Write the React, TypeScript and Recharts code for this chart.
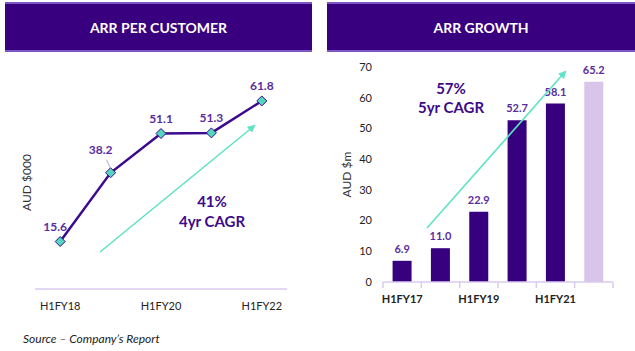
import React from "react";
import { ComposedChart, Line, Bar, Cell, XAxis, YAxis, LabelList } from "recharts";

// ARR per customer (AUD $000)
const customerPeriods = ["H1FY18", "H1FY19", "H1FY20", "H1FY21", "H1FY22"];
const arrPerCustomer = [15.6, 38.2, 51.1, 51.3, 61.8];

// ARR growth (AUD $m), last period shown as a lighter bar
const growthPeriods = ["H1FY17", "H1FY18", "H1FY19", "H1FY20", "H1FY21", "H1FY22"];
const arrGrowth = [6.9, 11.0, 22.9, 52.7, 58.1, 65.2];
const growthTicks = [0, 10, 20, 30, 40, 50, 60, 70];

const customerData = customerPeriods.map((p, i) => ({ period: p, value: arrPerCustomer[i] }));
const growthData = growthPeriods.map((p, i) => ({ period: p, value: arrGrowth[i] }));

const PURPLE = "#37007e";
const LABEL = "#5a2d9c";
const TEAL = "#5ee3c4";
const AXIS = "#d8cbef";
const FONT = "Lato, 'Open Sans', sans-serif";

const Diamond = (props: any) => {
  const { cx, cy, index } = props;
  if (cx == null || cy == null) return null;
  const r = 5;
  return (
    <polygon
      key={`d-${index}`}
      points={`${cx},${cy - r} ${cx + r},${cy} ${cx},${cy + r} ${cx - r},${cy}`}
      fill="#52d6c0"
      stroke="#3b0a8e"
      strokeWidth={1}
    />
  );
};

const CustomerLabel = (props: any) => {
  const { x, y, value, index } = props;
  const style = { fontFamily: FONT, fontSize: 12, fontWeight: 700, fill: LABEL };
  if (index === 1) {
    return (
      <g>
        <line x1={x - 4} y1={y - 13} x2={x} y2={y - 4} stroke="#a68ddb" strokeWidth={0.8} />
        <text x={x - 10} y={y - 19} textAnchor="middle" style={style}>
          {Number(value).toFixed(1)}
        </text>
      </g>
    );
  }
  const dx = index === 0 ? -5 : 0;
  return (
    <text x={x + dx} y={y - 11} textAnchor="middle" style={style}>
      {Number(value).toFixed(1)}
    </text>
  );
};

const GrowthTick = (props: any) => {
  const { x, y, payload, index } = props;
  const half = payload && payload.offset ? payload.offset : 19.2;
  const axisY = y - 13;
  const last = index === growthPeriods.length - 1;
  return (
    <g>
      <line x1={x - half} x2={x - half} y1={axisY} y2={axisY + 6} stroke={AXIS} strokeWidth={1.5} />
      {last && <line x1={x + half} x2={x + half} y1={axisY} y2={axisY + 6} stroke={AXIS} strokeWidth={1.5} />}
      {index % 2 === 0 && (
        <text x={x} y={y} dy="0.71em" textAnchor="middle" fill="#222" fontFamily={FONT} fontSize={11} fontWeight={700}>
          {payload.value}
        </text>
      )}
    </g>
  );
};

const headerStyle = (left: number, width: number): React.CSSProperties => ({
  position: "absolute",
  left,
  top: 2,
  width,
  height: 46,
  background: "#38007f",
  borderTop: "2px solid #7d57c4",
  borderBottom: "2px solid #7d57c4",
  color: "#fff",
  fontFamily: FONT,
  fontWeight: 700,
  fontSize: 14,
  display: "flex",
  alignItems: "center",
  justifyContent: "center",
});

export default function App() {
  return (
    <div style={{ position: "absolute", left: 0, top: 0, width: 635, height: 351, background: "#fff", overflow: "hidden" }}>
      <div style={headerStyle(5, 307)}>ARR PER CUSTOMER</div>
      <div style={headerStyle(327, 308)}>ARR GROWTH</div>

      <div style={{ position: "absolute", left: 0, top: 0 }}>
        <ComposedChart width={320} height={320} data={customerData} margin={{ top: 76, right: 33, bottom: 6, left: 10 }}>
          <XAxis
            dataKey="period"
            scale="band"
            interval={1}
            tickLine={false}
            tickSize={6}
            tickMargin={7}
            height={25}
            axisLine={{ stroke: AXIS, strokeWidth: 1.5 }}
            tick={{ fill: "#222", fontSize: 11, fontFamily: FONT }}
          />
          <YAxis
            domain={[0, 70]}
            tick={false}
            tickLine={false}
            axisLine={false}
            width={25}
            label={{ value: "AUD $000", angle: -90, position: "center", dx: 4, style: { fill: "#333", fontSize: 12, fontFamily: FONT } }}
          />
          <Line
            dataKey="value"
            type="linear"
            stroke="#3b0a8e"
            strokeWidth={2.5}
            dot={Diamond}
            activeDot={false}
            isAnimationActive={false}
          >
            <LabelList dataKey="value" content={CustomerLabel} />
          </Line>
        </ComposedChart>
      </div>

      <div style={{ position: "absolute", left: 320, top: 0 }}>
        <ComposedChart width={315} height={320} data={growthData} margin={{ top: 67, right: 22, bottom: 8, left: 15 }} barCategoryGap="25%">
          <XAxis
            dataKey="period"
            interval={0}
            tickLine={false}
            tickSize={6}
            tickMargin={7}
            height={30}
            axisLine={{ stroke: AXIS, strokeWidth: 1.5 }}
            tick={GrowthTick}
          />
          <YAxis
            domain={[0, 70]}
            ticks={growthTicks}
            tickLine={false}
            axisLine={false}
            tickSize={6}
            tickMargin={5}
            width={48}
            tick={{ fill: "#222", fontSize: 11, fontFamily: FONT }}
            label={{ value: "AUD $m", angle: -90, position: "center", dx: -12, style: { fill: "#333", fontSize: 12, fontFamily: FONT } }}
          />
          <Bar dataKey="value" isAnimationActive={false}>
            {growthData.map((d, i) => (
              <Cell key={d.period} fill={i === growthData.length - 1 ? "#d9c4ea" : PURPLE} />
            ))}
            <LabelList
              dataKey="value"
              position="top"
              offset={8}
              formatter={(v: any) => Number(v).toFixed(1)}
              style={{ fill: LABEL, fontSize: 11, fontWeight: 700, fontFamily: FONT }}
            />
          </Bar>
        </ComposedChart>
      </div>

      {/* annotations: CAGR arrows and text */}
      <svg width={635} height={351} style={{ position: "absolute", left: 0, top: 0, pointerEvents: "none" }}>
        <defs>
          <marker id="arrowHead" markerWidth="8" markerHeight="8" refX="6" refY="4" orient="auto" markerUnits="userSpaceOnUse">
            <path d="M0,0 L8,4 L0,8 z" fill={TEAL} />
          </marker>
        </defs>
        <line x1={100} y1={252} x2={254} y2={126} stroke={TEAL} strokeWidth={1.6} markerEnd="url(#arrowHead)" />
        <line x1={427} y1={228} x2={565} y2={72} stroke={TEAL} strokeWidth={1.6} markerEnd="url(#arrowHead)" />
        <g fontFamily={FONT} fontWeight={700} fontSize={15} fill="#3c0a8a" textAnchor="middle">
          <text x={212} y={207}>41%</text>
          <text x={212} y={227}>4yr CAGR</text>
          <text x={451} y={94}>57%</text>
          <text x={451} y={113}>5yr CAGR</text>
        </g>
        <text x={23} y={343} fontFamily={FONT} fontStyle="italic" fontSize={12} fill="#222">
          Source – Company’s Report
        </text>
      </svg>
    </div>
  );
}
